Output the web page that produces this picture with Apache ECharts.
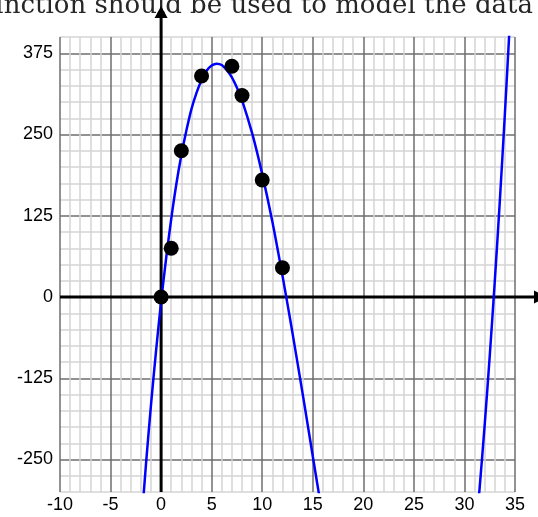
<!DOCTYPE html>
<html><head><meta charset="utf-8">
<script src="https://cdn.jsdelivr.net/npm/echarts@6/dist/echarts.min.js"></script>
<style>html,body{margin:0;padding:0;background:#fff;overflow:hidden}#c{width:538px;height:517px}</style>
</head><body><div id="c"></div>
<script>
// Data points
const pointX = [0, 1, 2, 4, 7, 8, 10, 12];
const pointY = [0, 75, 225, 340, 355, 310, 180, 45];
// Fitted curve (left/middle branch and right branch)
const curveLeftX = [-2, -1.5, -1, -0.5, 0, 0.5, 1, 1.5, 2, 2.5, 3, 3.5, 4, 4.5, 5, 5.5, 6, 6.5, 7, 7.5, 8, 9, 10, 11, 12, 12.5, 13, 14, 15, 16];
const curveLeftY = [-359, -258, -166, -83, -7, 60, 120, 173, 218, 256, 289, 314, 334, 348, 356, 359, 357, 349, 338, 322, 303, 252, 189, 116, 33, -11, -56, -149, -245, -340];
const curveRightX = [31, 31.5, 32, 32.5, 33, 33.5, 34, 34.5];
const curveRightY = [-382, -294, -197, -91, 24, 148, 282, 425];
// Tick labels
const xTickLabels = [-10, -5, 0, 5, 10, 15, 20, 25, 30, 35];
const yTickLabels = [-250, -125, 0, 125, 250, 375];
const titleText = 'function should be used to model the data';

const X_MIN = -10, X_MAX = 35, Y_MIN = -300, Y_MAX = 400;
const MAJOR = '#6e6e6e', MINOR = '#d4d4d4';
const chart = echarts.init(document.getElementById('c'), null, {renderer: 'canvas'});
const zip = (xs, ys) => xs.map((x, i) => [x, ys[i]]);
const labelFont = {fontFamily: 'Liberation Sans, Arial, sans-serif', fontSize: 18, color: '#000'};

chart.setOption({
  animation: false,
  backgroundColor: '#fff',
  grid: {left: 60, right: 23, top: 37, bottom: 25, containLabel: false, outerBoundsMode: 'none'},
  xAxis: {
    type: 'value', min: X_MIN, max: X_MAX, interval: 1,
    axisLine: {show: false}, axisTick: {show: false},
    axisLabel: Object.assign({margin: 4, formatter: v => xTickLabels.includes(v) ? String(v) : '', showMinLabel: true, showMaxLabel: true}, labelFont),
    splitLine: {show: true, showMinLine: true, showMaxLine: true, lineStyle: {color: [MAJOR, MINOR, MINOR, MINOR, MINOR], width: 1.5}}
  },
  yAxis: {
    type: 'value', min: Y_MIN, max: Y_MAX, interval: 25,
    axisLine: {show: false}, axisTick: {show: false},
    axisLabel: Object.assign({margin: 7, formatter: v => yTickLabels.includes(v) ? String(v) : ''}, labelFont),
    splitLine: {show: true, showMinLine: true, showMaxLine: true, lineStyle: {color: [MINOR, MINOR, MAJOR, MINOR, MINOR], width: 1.5}}
  },
  series: [
    {type: 'line', data: zip(curveLeftX, curveLeftY), smooth: 0.3, showSymbol: false, clip: true,
     lineStyle: {color: '#0000ff', width: 2.5}, z: 3},
    {type: 'line', data: zip(curveRightX, curveRightY), smooth: 0.3, showSymbol: false, clip: true,
     lineStyle: {color: '#0000ff', width: 2.5}, z: 3},
    {type: 'scatter', data: zip(pointX, pointY), symbol: 'circle', symbolSize: 15,
     itemStyle: {color: '#000', opacity: 1}, z: 4}
  ]
});

const o = chart.convertToPixel({gridIndex: 0}, [0, 0]);
const bl = chart.convertToPixel({gridIndex: 0}, [X_MIN, Y_MIN]);
const x0 = o[0], y0 = o[1];
chart.setOption({
  graphic: [
    {type: 'text', z: 0, x: 533, y: 6,
     style: {text: titleText, font: '26px "DejaVu Serif", serif', fill: '#262626', align: 'right', verticalAlign: 'middle'}},
    {type: 'line', z: 1, shape: {x1: bl[0], y1: y0, x2: 536, y2: y0}, style: {stroke: '#000', lineWidth: 3}},
    {type: 'polygon', z: 1, shape: {points: [[534, y0 - 6.5], [534, y0 + 6.5], [547, y0]]}, style: {fill: '#000'}},
    {type: 'line', z: 1, shape: {x1: x0, y1: bl[1], x2: x0, y2: 16}, style: {stroke: '#000', lineWidth: 3}},
    {type: 'polygon', z: 1, shape: {points: [[x0 - 6.5, 18], [x0 + 6.5, 18], [x0, 6]]}, style: {fill: '#000'}}
  ]
});
</script>
</body></html>
